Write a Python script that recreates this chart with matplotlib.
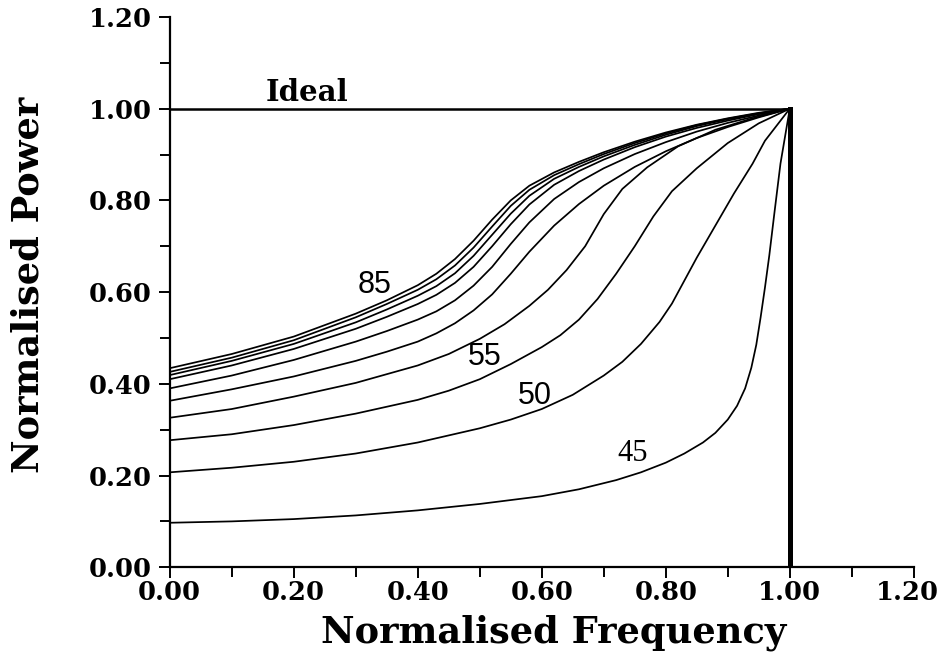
import matplotlib
matplotlib.use("Agg")
import matplotlib.pyplot as plt
from matplotlib.ticker import MultipleLocator, FormatStrFormatter
from matplotlib.transforms import ScaledTranslation

# Normalised power against normalised frequency, one curve per angle (degrees)
angles = [45, 50, 55, 60, 65, 70, 75, 80, 85, 90]

x45 = [0.0, 0.1, 0.2, 0.3, 0.4, 0.5, 0.6, 0.66, 0.72, 0.76, 0.8, 0.83, 0.86, 0.88,
       0.9, 0.915, 0.928, 0.938, 0.946, 0.953, 0.96, 0.967, 0.975, 0.985, 1.0]
y45 = [0.097, 0.100, 0.105, 0.113, 0.124, 0.138, 0.155, 0.170, 0.190, 0.207, 0.228,
       0.248, 0.272, 0.293, 0.322, 0.352, 0.390, 0.435, 0.485, 0.545, 0.61, 0.68,
       0.77, 0.88, 1.0]

x50 = [0.0, 0.1, 0.2, 0.3, 0.4, 0.5, 0.55, 0.6, 0.65, 0.7, 0.73, 0.76, 0.79, 0.81,
       0.83, 0.85, 0.88, 0.91, 0.94, 0.96, 0.98, 1.0]
y50 = [0.207, 0.217, 0.230, 0.248, 0.272, 0.303, 0.322, 0.345, 0.376, 0.418, 0.448,
       0.487, 0.535, 0.575, 0.625, 0.675, 0.745, 0.815, 0.88, 0.93, 0.965, 1.0]

x55 = [0.0, 0.1, 0.2, 0.3, 0.4, 0.45, 0.5, 0.55, 0.6, 0.63, 0.66, 0.69, 0.72, 0.75,
       0.78, 0.81, 0.85, 0.9, 0.95, 1.0]
y55 = [0.277, 0.29, 0.31, 0.335, 0.365, 0.385, 0.41, 0.443, 0.48, 0.506, 0.54,
       0.585, 0.64, 0.70, 0.765, 0.82, 0.87, 0.925, 0.968, 1.0]

x60 = [0.0, 0.1, 0.2, 0.3, 0.4, 0.45, 0.5, 0.54, 0.58, 0.61, 0.64, 0.67, 0.7, 0.73,
       0.77, 0.82, 0.88, 0.94, 1.0]
y60 = [0.326, 0.345, 0.372, 0.402, 0.44, 0.465, 0.498, 0.53, 0.57, 0.605, 0.648,
       0.70, 0.77, 0.825, 0.872, 0.918, 0.954, 0.979, 1.0]

x_top = [0.0, 0.1, 0.2, 0.3, 0.35, 0.4, 0.43, 0.46, 0.49, 0.52, 0.55, 0.58, 0.62,
         0.66, 0.7, 0.75, 0.8, 0.85, 0.9, 0.95, 1.0]
y65 = [0.363, 0.388, 0.416, 0.450, 0.470, 0.492, 0.510, 0.532, 0.560, 0.595, 0.640,
       0.688, 0.745, 0.792, 0.832, 0.873, 0.907, 0.936, 0.960, 0.981, 1.0]
y70 = [0.390, 0.418, 0.452, 0.492, 0.515, 0.540, 0.558, 0.582, 0.614, 0.655, 0.705,
       0.752, 0.803, 0.840, 0.870, 0.901, 0.927, 0.950, 0.969, 0.985, 1.0]
y75 = [0.410, 0.440, 0.476, 0.520, 0.546, 0.574, 0.594, 0.620, 0.655, 0.700, 0.748,
       0.791, 0.834, 0.864, 0.889, 0.916, 0.939, 0.958, 0.974, 0.988, 1.0]
y80 = [0.419, 0.450, 0.487, 0.534, 0.562, 0.592, 0.613, 0.641, 0.679, 0.725, 0.771,
       0.810, 0.847, 0.873, 0.896, 0.921, 0.943, 0.962, 0.977, 0.989, 1.0]
y85 = [0.426, 0.457, 0.495, 0.545, 0.574, 0.605, 0.628, 0.658, 0.697, 0.743, 0.788,
       0.823, 0.855, 0.879, 0.901, 0.925, 0.946, 0.964, 0.978, 0.990, 1.0]
y90 = [0.434, 0.465, 0.503, 0.553, 0.582, 0.615, 0.640, 0.672, 0.712, 0.758, 0.800,
       0.832, 0.861, 0.884, 0.905, 0.928, 0.948, 0.965, 0.979, 0.991, 1.0]

series = [(x45, y45), (x50, y50), (x55, y55), (x60, y60), (x_top, y65),
          (x_top, y70), (x_top, y75), (x_top, y80), (x_top, y85), (x_top, y90)]

# Ideal response: flat to the cut-off, then a sheer drop
ideal_x = [0.0, 1.0, 1.0]
ideal_y = [1.0, 1.0, 0.0]

# Curve labels: text and (x, y) placement in data units
curve_labels = [("85", 0.331, 0.616), ("55", 0.508, 0.458),
                ("50", 0.589, 0.373), ("45", 0.747, 0.247)]

x_ticks = [0.0, 0.2, 0.4, 0.6, 0.8, 1.0, 1.2]
y_ticks = [0.0, 0.2, 0.4, 0.6, 0.8, 1.0, 1.2]

slab = "DejaVu Serif"

fig = plt.figure(figsize=(9.43, 6.52), dpi=100)
ax = fig.add_axes([0.180, 0.130, 0.789, 0.844])

for xs, ys in series:
    ax.plot(xs, ys, color="black", lw=1.25, solid_joinstyle="round",
            solid_capstyle="round")

ax.plot(ideal_x[:2], ideal_y[:2], color="black", lw=1.8)
ax.plot(ideal_x[1:], ideal_y[1:], color="black", lw=3.6)

ax.text(0.221, 1.035, "Ideal", fontsize=21, fontweight="bold", family=slab,
        ha="center", va="center")

label_fonts = {"45": "Liberation Serif"}
for text, lx, ly in curve_labels:
    ax.text(lx, ly, text, fontsize=22,
            family=label_fonts.get(text, "Liberation Sans"),
            ha="center", va="center")

ax.set_xlim(0, 1.2)
ax.set_ylim(0, 1.2)
ax.set_xticks(x_ticks)
ax.set_yticks(y_ticks)
ax.xaxis.set_minor_locator(MultipleLocator(0.1))
ax.yaxis.set_minor_locator(MultipleLocator(0.1))
ax.xaxis.set_major_formatter(FormatStrFormatter("%.2f"))
ax.yaxis.set_major_formatter(FormatStrFormatter("%.2f"))

for side in ("top", "right"):
    ax.spines[side].set_visible(False)
for side in ("left", "bottom"):
    ax.spines[side].set_linewidth(1.6)

ax.tick_params(which="both", direction="out", width=1.4, colors="black")
ax.tick_params(which="major", length=8)
ax.tick_params(which="minor", length=7)
ax.tick_params(axis="x", which="major", pad=1)
ax.tick_params(axis="y", which="major", pad=5)

for lab in ax.get_xticklabels() + ax.get_yticklabels():
    lab.set_family(slab)
    lab.set_fontweight("bold")
    lab.set_fontsize(18.5)

# keep the last frequency label inside the canvas
last = ax.get_xticklabels()[-1]
last.set_transform(last.get_transform()
                   + ScaledTranslation(-6 / 100, 0, fig.dpi_scale_trans))

ax.set_xlabel("Normalised Frequency", family=slab, fontweight="bold",
              fontsize=26.5)
ax.set_ylabel("Normalised Power", family=slab, fontweight="bold",
              fontsize=26.5)
ax.xaxis.set_label_coords(0.516, -0.085)
ax.yaxis.set_label_coords(-0.165, 0.513)

fig.savefig("out.png", dpi=100, facecolor="white")
